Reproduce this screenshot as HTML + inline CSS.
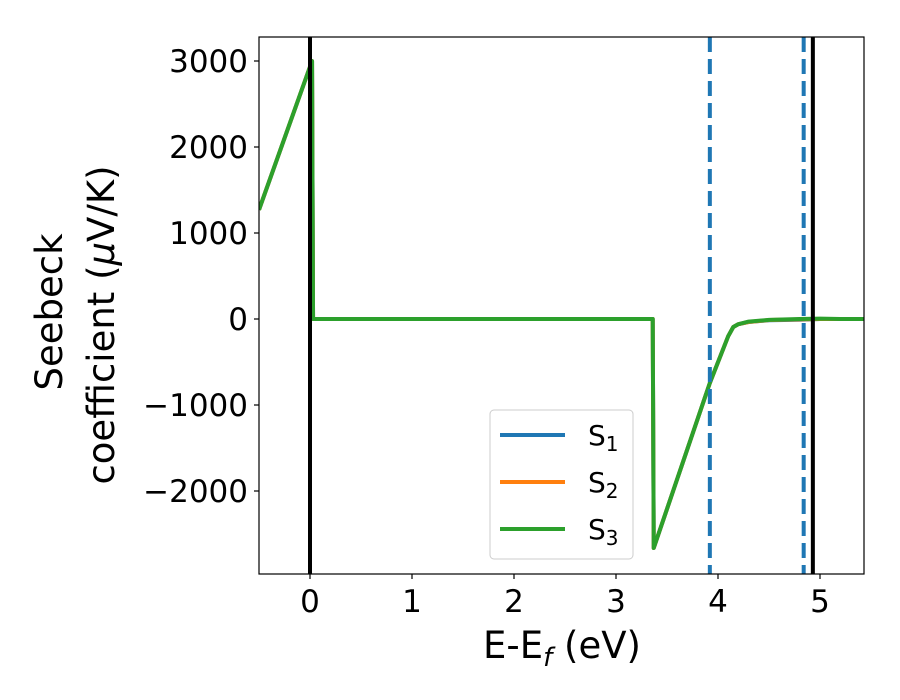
<!DOCTYPE html>
<html><head><meta charset="utf-8"><style>body{margin:0;background:#fff}svg{display:block;font-family:"DejaVu Sans","Liberation Sans",sans-serif}</style></head>
<body>
<svg width="900" height="700" viewBox="0 0 900 700">
<g id="plot"></g>
</svg>
<script>
const xs = [-0.5, 0.02, 0.03, 3.36, 3.37, 3.92, 4.1, 4.15, 4.2, 4.3, 4.5, 4.8, 5.0, 5.2, 5.43];
const s1 = [1270, 3000, 0, 0, -2663, -744, -200, -93, -60, -35, -15, -8, 0, 0, 0];
const s2 = [1270, 3000, 0, 0, -2663, -744, -200, -93, -60, -35, -12, -5, 0, 0, 0];
const s3 = [1270, 3000, 0, 0, -2663, -744, -200, -93, -60, -30, -10, 0, 5, 0, 0];
const xTicks = [0, 1, 2, 3, 4, 5];
const yTicks = [3000, 2000, 1000, 0, -1000, -2000];
const dashedX = [3.92, 4.84];
const solidX = [0, 4.93];
const seriesNames = ["S", "S", "S"];
const seriesSubs = ["1", "2", "3"];
const colors = ["#1f77b4", "#ff7f0e", "#2ca02c"];

const L=259,R=864,T=37,B=574;
const X=v=>310+v*102;
const Y=v=>319-v*0.086;
const NS="http://www.w3.org/2000/svg";
const g=document.getElementById('plot');
function mk(tag,attrs,parent){const e=document.createElementNS(NS,tag);for(const k in attrs)e.setAttribute(k,attrs[k]);(parent||g).appendChild(e);return e;}

[s1,s2,s3].forEach((s,i)=>{
  const p=mk('polyline',{points:xs.map((x,j)=>X(x)+','+Y(s[j])).join(' '),fill:'none',stroke:colors[i],'stroke-width':4,'stroke-linejoin':'round'});
  
  
});
solidX.forEach(v=>{
  const l=mk('line',{x1:X(v),x2:X(v),y1:T,y2:B,stroke:'#000','stroke-width':4});
  
  
});
dashedX.forEach(v=>{
  const l=mk('line',{x1:X(v),x2:X(v),y1:T,y2:B,stroke:'#1f77b4','stroke-width':4,'stroke-dasharray':'15,7'});
  
  
});
const cl=mk('path',{d:`M0 0H900V700H0Z M${L} ${T}V${B}H${R}V${T}Z`,fill:'#fff','fill-rule':'evenodd'});


const fr=mk('rect',{x:L,y:T,width:R-L,height:B-T,fill:'none',stroke:'#000','stroke-width':1.2});


xTicks.forEach(v=>{
  const t=mk('line',{x1:X(v),x2:X(v),y1:B,y2:B+5,stroke:'#000','stroke-width':1.2});
  
  
  const tx=mk('text',{x:X(v),y:B+38,'text-anchor':'middle','font-size':31});
  tx.textContent=v;
  
  
});
yTicks.forEach(v=>{
  const t=mk('line',{x1:L-5,x2:L,y1:Y(v),y2:Y(v),stroke:'#000','stroke-width':1.2});
  
  
  const tx=mk('text',{x:L-11,y:Y(v)+11,'text-anchor':'end','font-size':31});
  tx.textContent=v<0?'\u2212'+(-v):v;
  
  
});
const xt=mk('text',{x:562,y:658,'text-anchor':'middle','font-size':37});
xt.innerHTML='E-E<tspan font-size="26" font-style="italic" dy="8">f</tspan><tspan dy="-8"> (eV)</tspan>';


const yt1=mk('text',{transform:'translate(62,312) rotate(-90)','text-anchor':'middle','font-size':37});
yt1.textContent='Seebeck';


const yt2=mk('text',{transform:'translate(114,325) rotate(-90)','text-anchor':'middle','font-size':37});
yt2.innerHTML='coefficient  (<tspan font-style="italic">\u03bc</tspan>V/K)';
yt2.setAttribute('xml:space','preserve');


const lg=mk('g',{});


mk('rect',{x:490,y:410,width:143,height:149,rx:4,fill:'#fff','fill-opacity':0.8,stroke:'#ccc','stroke-width':1},lg);
seriesNames.forEach((n,i)=>{
  const y=435+i*47;
  const l=mk('line',{x1:500,x2:565,y1:y,y2:y,stroke:colors[i],'stroke-width':4},lg);
  
  
  const t=mk('text',{x:588,y:y+10,'font-size':28},lg);
  t.innerHTML=n+'<tspan font-size="20" dy="6">'+seriesSubs[i]+'</tspan>';
  
  
});
</script>
</body></html>
